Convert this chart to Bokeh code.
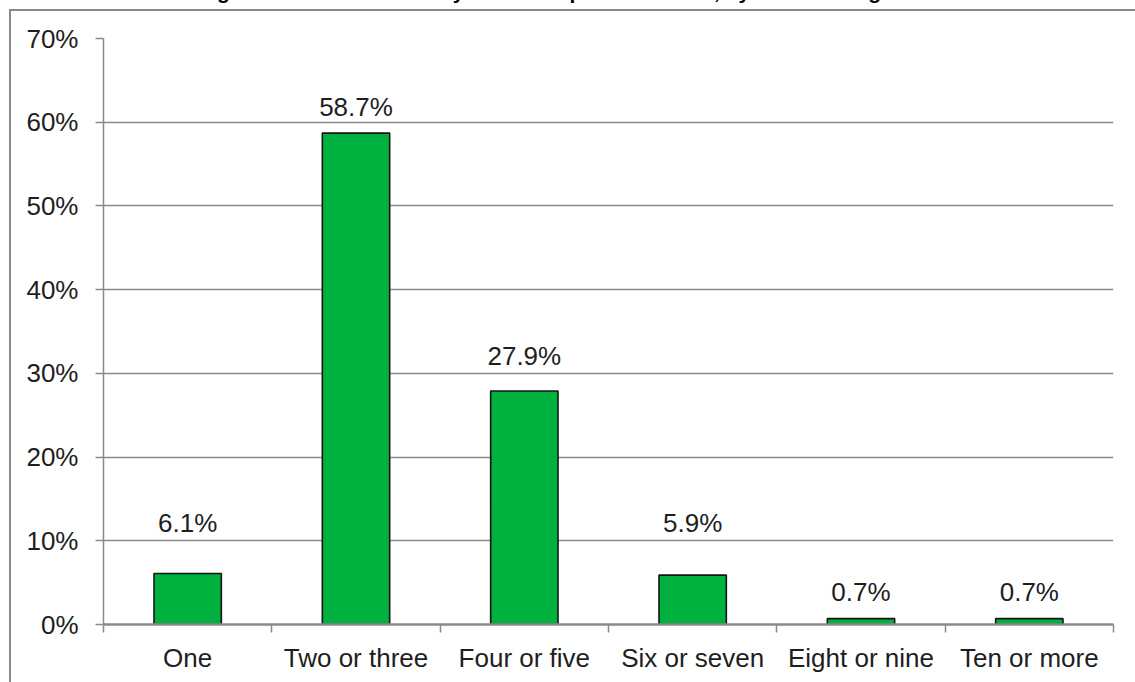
from bokeh.plotting import figure
from bokeh.models import (Range1d, FixedTicker, PrintfTickFormatter, Label,
                          ColumnDataSource, InlineStyleSheet)
from bokeh.core.properties import value
from bokeh.embed import file_html
from bokeh.resources import INLINE

# Survey results: share of respondents per answer group
categories = ["One", "Two or three", "Four or five", "Six or seven", "Eight or nine", "Ten or more"]
shares = [6.1, 58.7, 27.9, 5.9, 0.7, 0.7]
share_labels = ["6.1%", "58.7%", "27.9%", "5.9%", "0.7%", "0.7%"]
y_ticks = [0, 10, 20, 30, 40, 50, 60, 70]
title_text = "Figure 7: Number of family members per household, by income range"

FONT = "Liberation Sans"
GREY = "#8a8a8a"
TEXT = "#1e1e1e"
BAR_GREEN = "#00b140"
FONT_PX = 26
TITLE_PX = 21

W, H = 1135, 682
LEFT, RIGHT, TOP, BOTTOM = 103, 22, 38, 58
frame_w = W - LEFT - RIGHT
frame_h = H - TOP - BOTTOM
y_max = y_ticks[-1]
n = len(categories)
ppx = frame_w / n          # pixels per category slot
ppy = frame_h / y_max      # pixels per percentage point


def x_at(px):
    return (px - LEFT) / ppx


def y_at(py):
    return y_max + (TOP - py) / ppy


# thin grey border around the chart box (left and top edges fall inside the page)
border_css = InlineStyleSheet(css=f"""
:host {{ position: relative; }}
:host::after {{
  content: "";
  position: absolute;
  left: 9px; top: 9px; right: -20px; bottom: -20px;
  border-left: 2px solid {GREY};
  border-top: 2px solid {GREY};
  pointer-events: none;
}}
""")

p = figure(width=W, height=H, output_backend="svg", toolbar_location=None,
           x_range=Range1d(0, n), y_range=Range1d(0, y_max),
           min_border_left=LEFT, min_border_right=RIGHT,
           min_border_top=TOP, min_border_bottom=BOTTOM,
           stylesheets=[border_css])
p.outline_line_color = None
p.background_fill_color = "white"
p.border_fill_color = "white"

# bars centred in each category slot
xs = [i + 0.5 for i in range(n)]
src = ColumnDataSource(dict(x=xs, top=shares, label=share_labels))
p.vbar(x="x", top="top", bottom=0, width=0.4, source=src,
       fill_color=BAR_GREEN, line_color="#141414", line_width=1.6)

# value labels: baseline 17px above the bar, lifted over a gridline they would touch
gap = 17 / ppy
cap = 19 / ppy
low = 4 / ppy
lift = 8 / ppy
descent = 0.212 * FONT_PX / ppy
label_y = []
for v in shares:
    base = v + gap
    for g in y_ticks:
        if base - low <= g <= base + cap:
            base = g + lift
    label_y.append(base - descent)   # bottom of the text box
src.data["ly"] = label_y
p.text(x="x", y="ly", text="label", source=src, text_align="center",
       text_baseline="bottom", text_font=value(FONT),
       text_font_size=f"{FONT_PX}px", text_color=TEXT)

# y axis
p.yaxis.ticker = FixedTicker(ticks=y_ticks)
p.yaxis.formatter = PrintfTickFormatter(format="%d%%")
p.yaxis.axis_line_color = GREY
p.yaxis.axis_line_width = 1.5
p.yaxis.major_tick_line_color = GREY
p.yaxis.major_tick_line_width = 1.5
p.yaxis.major_tick_in = 0
p.yaxis.major_tick_out = 8
p.yaxis.minor_tick_line_color = None
p.yaxis.major_label_standoff = 17
p.yaxis.major_label_text_font = FONT
p.yaxis.major_label_text_font_size = f"{FONT_PX}px"
p.yaxis.major_label_text_color = TEXT

# x axis: labels under slot centres, ticks on slot boundaries
p.xaxis.ticker = FixedTicker(ticks=xs, minor_ticks=list(range(n + 1)))
p.xaxis.major_label_overrides = {x: c for x, c in zip(xs, categories)}
p.xaxis.axis_line_color = GREY
p.xaxis.axis_line_width = 2.5
p.xaxis.major_tick_line_color = None
p.xaxis.major_tick_in = 0
p.xaxis.major_tick_out = 0
p.xaxis.minor_tick_line_color = GREY
p.xaxis.minor_tick_line_width = 1.5
p.xaxis.minor_tick_in = 0
p.xaxis.minor_tick_out = 8
p.xaxis.major_label_standoff = 10
p.xaxis.major_label_text_font = FONT
p.xaxis.major_label_text_font_size = f"{FONT_PX}px"
p.xaxis.major_label_text_color = TEXT

p.xgrid.visible = False
p.ygrid.ticker = FixedTicker(ticks=y_ticks)
p.ygrid.grid_line_color = GREY
p.ygrid.grid_line_width = 1.5

# title above the chart box, running off the top of the page
p.add_layout(Label(x=x_at(545), y=y_at(2.5), text=title_text,
                   text_align="center", text_baseline="bottom",
                   text_font=FONT, text_font_style="bold",
                   text_font_size=f"{TITLE_PX}px", text_color="#000000"), "above")

open("out.html", "w").write(file_html(p, INLINE))
